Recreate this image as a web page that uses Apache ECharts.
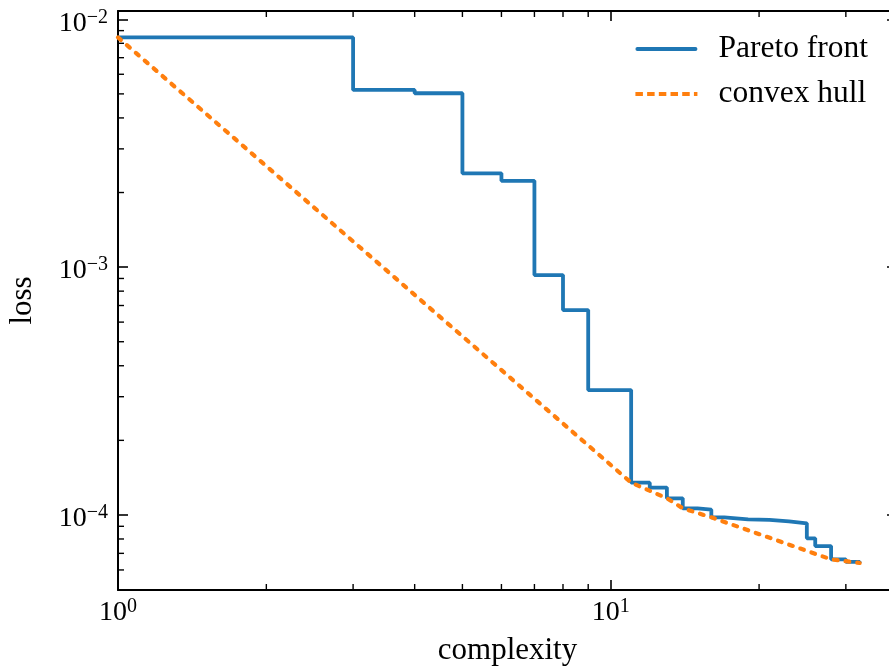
<!DOCTYPE html>
<html>
<head>
<meta charset="utf-8">
<script src="https://cdn.jsdelivr.net/npm/echarts@6/dist/echarts.min.js"></script>
<style>
  html, body { margin: 0; padding: 0; background: #fff; }
  #chart { width: 889px; height: 671px; }
</style>
</head>
<body>
<div id="chart"></div>
<script>
// Pareto front (step, where='post') and its convex hull, log-log
const paretoX = [1, 3, 4, 5, 6, 7, 8, 9, 11, 12, 13, 14, 15, 16, 17, 19, 21, 23, 25, 26, 28, 30, 32];
const paretoY = [8.45e-3, 5.19e-3, 5.03e-3, 2.39e-3, 2.23e-3, 9.29e-4, 6.71e-4, 3.19e-4, 1.35e-4,
    1.29e-4, 1.167e-4, 1.064e-4, 1.05e-4, 9.78e-5, 9.6e-5, 9.55e-5, 9.42e-5, 9.25e-5, 8.05e-5,
    7.49e-5, 6.62e-5, 6.47e-5, 6.40e-5];
const hullX = [1, 11, 13, 14, 16, 28, 32];
const hullY = [8.45e-3, 1.35e-4, 1.167e-4, 1.064e-4, 9.78e-5, 6.62e-5, 6.40e-5];

const xLimits = [1, 38.1];
const yLimits = [4.98e-5, 1.08e-2];
const xMinorTicks = [2, 3, 4, 5, 6, 7, 8, 9, 20, 30];
const yMinorTicks = [6e-5, 7e-5, 8e-5, 9e-5, 2e-4, 3e-4, 4e-4, 5e-4, 6e-4, 7e-4, 8e-4, 9e-4,
    2e-3, 3e-3, 4e-3, 5e-3, 6e-3, 7e-3, 8e-3, 9e-3];

const FONT = '"Liberation Serif", "DejaVu Serif", serif';
const tickRich = {
    b: { fontFamily: FONT, fontSize: 28, lineHeight: 30, color: '#000', verticalAlign: 'bottom' },
    s: { fontFamily: FONT, fontSize: 20, lineHeight: 14, color: '#000', verticalAlign: 'top' }
};
// only label exact decades (the axis ends are not decades)
const powLabel = v => {
    const l = Math.log10(v);
    const e = Math.round(l);
    if (Math.abs(l - e) > 0.01) return '';
    return `{b|10}{s|${e < 0 ? '−' + (-e) : e}}`;
};

const majorTick = { show: true, inside: true, length: 10, lineStyle: { color: '#000', width: 1.6 } };
const spine = { show: true, onZero: false, lineStyle: { color: '#000', width: 2 } };
const MINOR = 6;

// legend glyphs: solid bar and dashed bar
const ICON_SOLID = 'path://M2,0H60A2,2 0 0 1 60,4H2A2,2 0 0 1 2,0Z';
const ICON_DASH = 'path://M0,0H7.5V4H0Z M11.7,0H19.2V4H11.7Z M23.4,0H30.9V4H23.4Z M35.1,0H42.6V4H35.1Z M46.8,0H54.3V4H46.8Z M58.5,0H62V4H58.5Z';

function xMinorItem(params, api) {
    const cs = params.coordSys;
    const px = api.coord([api.value(0), api.value(1)])[0];
    const st = { stroke: '#000', lineWidth: 1.4 };
    return {
        type: 'group',
        children: [
            { type: 'line', shape: { x1: px, y1: cs.y + cs.height, x2: px, y2: cs.y + cs.height - MINOR }, style: st },
            { type: 'line', shape: { x1: px, y1: cs.y, x2: px, y2: cs.y + MINOR }, style: st }
        ]
    };
}

function yMinorItem(params, api) {
    const cs = params.coordSys;
    const py = api.coord([api.value(0), api.value(1)])[1];
    const st = { stroke: '#000', lineWidth: 1.4 };
    return {
        type: 'group',
        children: [
            { type: 'line', shape: { x1: cs.x, y1: py, x2: cs.x + MINOR, y2: py }, style: st },
            { type: 'line', shape: { x1: cs.x + cs.width, y1: py, x2: cs.x + cs.width - MINOR, y2: py }, style: st }
        ]
    };
}

const chart = echarts.init(document.getElementById('chart'), null, { renderer: 'canvas' });
chart.setOption({
    animation: false,
    backgroundColor: '#fff',
    grid: { left: 118, top: 11, width: 779, height: 579, containLabel: false, outerBoundsMode: 'none' },
    legend: {
        data: [
            { name: 'Pareto front', icon: ICON_SOLID },
            { name: 'convex hull', icon: ICON_DASH }
        ],
        orient: 'vertical',
        right: 21,
        top: 33,
        padding: 0,
        itemWidth: 62,
        itemHeight: 4,
        itemGap: 13,
        textStyle: { fontFamily: FONT, fontSize: 31.5, lineHeight: 30, color: '#000', padding: [0, 0, 0, 16] }
    },
    xAxis: [{
        type: 'log',
        logBase: 10,
        min: xLimits[0],
        max: xLimits[1],
        position: 'bottom',
        name: 'complexity',
        nameLocation: 'middle',
        nameGap: 45,
        nameTextStyle: { fontFamily: FONT, fontSize: 31, color: '#000' },
        axisLine: spine,
        axisTick: majorTick,
        splitLine: { show: false },
        axisLabel: { margin: 7, formatter: powLabel, rich: tickRich, showMaxLabel: false }
    }, {
        type: 'log',
        logBase: 10,
        min: xLimits[0],
        max: xLimits[1],
        position: 'top',
        axisLine: spine,
        axisTick: majorTick,
        splitLine: { show: false },
        axisLabel: { show: false }
    }],
    yAxis: [{
        type: 'log',
        logBase: 10,
        min: yLimits[0],
        max: yLimits[1],
        position: 'left',
        name: 'loss',
        nameLocation: 'middle',
        nameGap: 80,
        nameTextStyle: { fontFamily: FONT, fontSize: 31, color: '#000' },
        axisLine: spine,
        axisTick: majorTick,
        splitLine: { show: false },
        axisLabel: { margin: 10, formatter: powLabel, rich: tickRich, padding: [6, 0, 0, 0], showMinLabel: false, showMaxLabel: false }
    }, {
        type: 'log',
        logBase: 10,
        min: yLimits[0],
        max: yLimits[1],
        position: 'right',
        axisLine: spine,
        axisTick: majorTick,
        splitLine: { show: false },
        axisLabel: { show: false }
    }],
    series: [{
        name: 'Pareto front',
        type: 'line',
        step: 'end',
        data: paretoX.map((x, i) => [x, paretoY[i]]),
        symbol: 'none',
        lineStyle: { color: '#1f77b4', width: 3.8 },
        itemStyle: { color: '#1f77b4' },
        z: 3
    }, {
        name: 'convex hull',
        type: 'line',
        data: hullX.map((x, i) => [x, hullY[i]]),
        symbol: 'none',
        lineStyle: { color: '#ff7f0e', width: 4.2, type: [3.8, 8], cap: 'round' },
        itemStyle: { color: '#ff7f0e' },
        z: 4
    }, {
        name: 'xminor',
        type: 'custom',
        renderItem: xMinorItem,
        data: xMinorTicks.map(v => [v, 1e-3]),
        silent: true,
        clip: false
    }, {
        name: 'yminor',
        type: 'custom',
        renderItem: yMinorItem,
        data: yMinorTicks.map(v => [1, v]),
        silent: true,
        clip: false
    }]
});
</script>
</body>
</html>
